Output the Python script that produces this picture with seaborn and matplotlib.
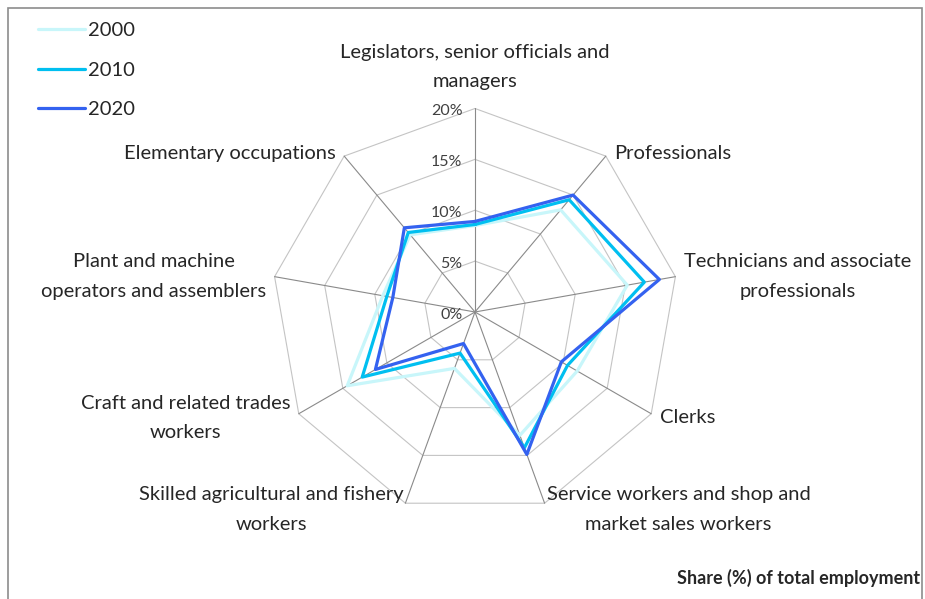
import numpy as np
import pandas as pd
import matplotlib.pyplot as plt
import seaborn as sns
from matplotlib.lines import Line2D
from matplotlib.patches import Rectangle

# occupation groups, clockwise from the top
categories = ["Legislators, senior officials and\nmanagers",
              "Professionals",
              "Technicians and associate\nprofessionals",
              "Clerks",
              "Service workers and shop and\nmarket sales workers",
              "Skilled agricultural and fishery\nworkers",
              "Craft and related trades\nworkers",
              "Plant and machine\noperators and assemblers",
              "Elementary occupations"]
share_2000 = [8.5, 13.1, 15.2, 11.6, 12.9, 5.9, 14.5, 9.2, 9.9]
share_2010 = [8.6, 14.4, 16.9, 10.5, 14.2, 4.3, 12.8, 8.8, 10.2]
share_2020 = [8.9, 15.0, 18.4, 9.8, 14.9, 3.3, 11.3, 8.2, 10.8]
years = ["2000", "2010", "2020"]
rings = [0, 5, 10, 15, 20]
colors = {"2000": "#c8f6fa", "2010": "#00bff0", "2020": "#3462f0"}

sns.set_style("white")
plt.rcParams['font.family'] = ['Lato', 'DejaVu Sans']

n = len(categories)
angles = np.linspace(0, 2 * np.pi, n, endpoint=False)

rows = []
for yr, vals in zip(years, [share_2000, share_2010, share_2020]):
    for a, v in zip(list(angles) + [2 * np.pi], vals + [vals[0]]):
        rows.append({"year": yr, "theta": a, "share": v})
df = pd.DataFrame(rows)

fig = plt.figure(figsize=(9.25, 5.99), dpi=100)
ax = fig.add_axes([0.2935, 0.1394, 0.44, 0.6795], projection='polar')
ax.set_theta_zero_location('N')
ax.set_theta_direction(-1)
ax.grid(False)
ax.spines['polar'].set_visible(False)
ax.set_xticks([])
ax.set_yticks([])

# polygon rings and spokes
closed = list(angles) + [2 * np.pi]
for r in rings[1:]:
    ax.plot(closed, [r] * (n + 1), color='#c4c4c4', lw=0.8, zorder=1, clip_on=False)
for a in angles:
    ax.plot([a, a], [0, rings[-1]], color='#8a8a8a', lw=0.8, zorder=1, clip_on=False)

sns.lineplot(data=df, x="theta", y="share", hue="year", palette=colors,
             hue_order=years, sort=False, estimator=None, lw=2.3,
             legend=False, ax=ax, zorder=3)
ax.set_ylim(0, 20)
ax.set_xlabel('')
ax.set_ylabel('')

for r in rings:
    ax.annotate(f"{r}%", (0, r), xytext=(-9, -2), textcoords='offset points',
                ha='right', va='center', fontsize=11.5, color='#404040')

lab_kw = dict(textcoords='offset points', fontsize=14.5, linespacing=1.9,
              multialignment='center', annotation_clip=False)
for a, lab in zip(angles, categories):
    s, c = np.sin(a), np.cos(a)
    if abs(s) < 0.1:
        ax.annotate(lab, (a, 20), xytext=(0, 13), ha='center', va='bottom', **lab_kw)
        continue
    ha = 'left' if s > 0 else 'right'
    dx = 6 if abs(c) < 0.9 else 1.5
    dy = 2 if c > 0.5 else (-4.5 if c < -0.9 else (-3 if c < -0.2 else 0))
    ax.annotate(lab, (a, 20), xytext=(dx * np.sign(s), dy), ha=ha, va='center', **lab_kw)

handles = [Line2D([], [], color=colors[y], lw=2.3) for y in years]
ax.legend(handles, years, loc='upper left', bbox_to_anchor=(0.022, 0.993),
          bbox_transform=fig.transFigure, frameon=False, fontsize=14.5,
          handlelength=2.3, handletextpad=0.15, labelspacing=1.1)

fig.text(0.995, 0.035, "Share (%) of total employment", ha='right', va='center',
         fontsize=13, fontweight='bold')

fig.patches.append(Rectangle((0.009, -0.01), 0.988, 0.997, transform=fig.transFigure,
                             fill=False, edgecolor='#8c8c8c', lw=1.2))

fig.savefig("out.png", dpi=100)
